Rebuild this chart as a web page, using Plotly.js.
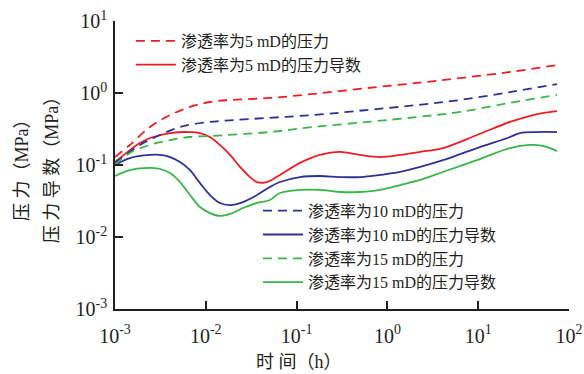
<!DOCTYPE html>
<html>
<head>
<meta charset="utf-8">
<script src="https://cdn.plot.ly/plotly-3.0.1.min.js"></script>
<style>
body{margin:0;padding:0;background:#fff;}
#chart{width:584px;height:374px;}
</style>
</head>
<body>
<div id="chart"></div>
<script>
// time (h)
const tP5  = [0.001, 0.00146, 0.00243, 0.00404, 0.0067, 0.0111, 0.0185, 0.0509, 0.152, 0.596, 2.12, 6.31, 22.4, 73.8];
const pres5 = [0.129, 0.19, 0.337, 0.494, 0.64, 0.75, 0.80, 0.853, 0.97, 1.17, 1.38, 1.61, 1.96, 2.45];

const tP10 = [0.001, 0.00188, 0.00313, 0.0052, 0.0111, 0.0307, 0.152, 0.596, 2.12, 6.31, 22.4, 73.8];
const pres10 = [0.107, 0.19, 0.261, 0.337, 0.396, 0.435, 0.495, 0.58, 0.68, 0.80, 1.03, 1.33];

const tP15 = [0.001, 0.00146, 0.00243, 0.00404, 0.0067, 0.0111, 0.0509, 0.152, 0.596, 2.12, 6.31, 22.4, 73.8];
const pres15 = [0.1, 0.147, 0.19, 0.222, 0.245, 0.253, 0.287, 0.337, 0.396, 0.464, 0.545, 0.73, 0.94];

const tD5 = [0.001, 0.00146, 0.00188, 0.00243, 0.00404, 0.0067, 0.00863, 0.0111, 0.0143, 0.0185, 0.0238, 0.0307, 0.0366, 0.0472, 0.0656, 0.109, 0.181, 0.301, 0.499, 0.83, 1.38, 2.29, 4.09, 9.70, 22.4, 44.5, 73.8];
const deriv5 = [0.11, 0.161, 0.202, 0.237, 0.278, 0.287, 0.278, 0.245, 0.19, 0.138, 0.094, 0.068, 0.058, 0.058, 0.0727, 0.107, 0.138, 0.152, 0.138, 0.129, 0.138, 0.152, 0.172, 0.261, 0.396, 0.51, 0.56];

const tD10 = [0.001, 0.00146, 0.00243, 0.00313, 0.00404, 0.0052, 0.0067, 0.00863, 0.0111, 0.0143, 0.0185, 0.0257, 0.0366, 0.0509, 0.0656, 0.109, 0.181, 0.301, 0.499, 0.83, 1.38, 2.29, 4.09, 9.70, 22.4, 28.8, 44.5, 73.8];
const deriv10 = [0.1, 0.125, 0.138, 0.138, 0.129, 0.110, 0.085, 0.056, 0.0383, 0.0297, 0.0278, 0.0306, 0.0383, 0.0495, 0.058, 0.068, 0.0703, 0.068, 0.068, 0.0727, 0.080, 0.094, 0.117, 0.172, 0.245, 0.278, 0.287, 0.287];

const tD15 = [0.001, 0.00146, 0.00243, 0.00313, 0.00404, 0.0052, 0.0067, 0.00863, 0.0111, 0.0143, 0.0185, 0.0257, 0.0366, 0.0509, 0.0656, 0.109, 0.181, 0.301, 0.499, 0.83, 1.38, 2.29, 4.09, 9.70, 22.4, 37.2, 51.6, 73.8];
const deriv15 = [0.0703, 0.085, 0.091, 0.088, 0.0775, 0.058, 0.0383, 0.0261, 0.0215, 0.0196, 0.0209, 0.0253, 0.0297, 0.0327, 0.0408, 0.045, 0.045, 0.0422, 0.0422, 0.045, 0.0527, 0.062, 0.080, 0.117, 0.172, 0.19, 0.184, 0.156];

const names = ["渗透率为5 mD的压力", "渗透率为5 mD的压力导数", "渗透率为10 mD的压力", "渗透率为10 mD的压力导数", "渗透率为15 mD的压力", "渗透率为15 mD的压力导数"];

const xTickVals = [0.001, 0.01, 0.1, 1, 10, 100];
const xTickText = ["10<sup>-3</sup>", "10<sup>-2</sup>", "10<sup>-1</sup>", "10<sup>0</sup>", "10<sup>1</sup>", "10<sup>2</sup>"];
const yTickVals = [0.001, 0.01, 0.1, 1, 10];
const yTickText = ["10<sup>-3</sup>", "10<sup>-2</sup>", "10<sup>-1</sup>", "10<sup>0</sup>", "10<sup>1</sup>"];

const RED = "#ed1c24", BLUE = "#2e3192", GREEN = "#39b54a";
const DASH = "9px,6px";
const W = 1.8;

function tr(x, y, name, color, dashed, legend) {
  return {
    x: x, y: y, name: name, type: "scatter", mode: "lines",
    line: {color: color, width: W, dash: dashed ? DASH : "solid", shape: "spline", smoothing: 1},
    legend: legend
  };
}

const data = [
  tr(tP5, pres5, names[0], RED, true, "legend"),
  tr(tD5, deriv5, names[1], RED, false, "legend"),
  tr(tP10, pres10, names[2], BLUE, true, "legend2"),
  tr(tD10, deriv10, names[3], BLUE, false, "legend2"),
  tr(tP15, pres15, names[4], GREEN, true, "legend2"),
  tr(tD15, deriv15, names[5], GREEN, false, "legend2")
];

const FONT = "Liberation Serif, 'Noto Sans CJK SC', serif";
const INK = "#231f20";

const layout = {
  width: 584, height: 374,
  margin: {l: 115, r: 15, t: 21, b: 65},
  paper_bgcolor: "#fff", plot_bgcolor: "#fff",
  font: {family: FONT, color: INK, size: 16},
  showlegend: true,
  xaxis: {
    type: "log", range: [-3, 2],
    tickvals: xTickVals, ticktext: xTickText,
    ticks: "inside", ticklen: 8, tickwidth: 1.5, tickcolor: INK,
    showline: true, linecolor: INK, linewidth: 1.5,
    showgrid: false, zeroline: false,
    tickfont: {family: FONT, size: 20, color: INK},
    ticklabelstandoff: 8
  },
  yaxis: {
    type: "log", range: [-3, 1],
    tickvals: yTickVals, ticktext: yTickText,
    ticks: "inside", ticklen: 8, tickwidth: 1.5, tickcolor: INK,
    showline: true, linecolor: INK, linewidth: 1.5,
    showgrid: false, zeroline: false,
    tickfont: {family: FONT, size: 20, color: INK},
    ticklabelstandoff: 2
  },
  legend: {
    x: 0.035, y: 0.99, xanchor: "left", yanchor: "top",
    bgcolor: "rgba(0,0,0,0)", font: {family: FONT, size: 16, color: INK},
    tracegroupgap: 0, itemwidth: 40
  },
  legend2: {
    x: 0.315, y: 0.4, xanchor: "left", yanchor: "top",
    bgcolor: "rgba(0,0,0,0)", font: {family: FONT, size: 16, color: INK},
    tracegroupgap: 0, itemwidth: 40
  },
  annotations: [
    {text: "时 间（h）", xref: "paper", yref: "paper", x: 0.405, y: -0.185,
     xanchor: "center", yanchor: "middle", showarrow: false,
     font: {family: FONT, size: 18, color: INK}},
    {text: "压 力（MPa）", xref: "paper", yref: "paper", x: -0.205, y: 0.5,
     xanchor: "center", yanchor: "middle", showarrow: false, textangle: -90,
     font: {family: FONT, size: 18, color: INK}},
    {text: "压 力 导 数（MPa）", xref: "paper", yref: "paper", x: -0.138, y: 0.5,
     xanchor: "center", yanchor: "middle", showarrow: false, textangle: -90,
     font: {family: FONT, size: 18, color: INK}}
  ]
};

Plotly.newPlot("chart", data, layout, {displayModeBar: false});
</script>
</body>
</html>
